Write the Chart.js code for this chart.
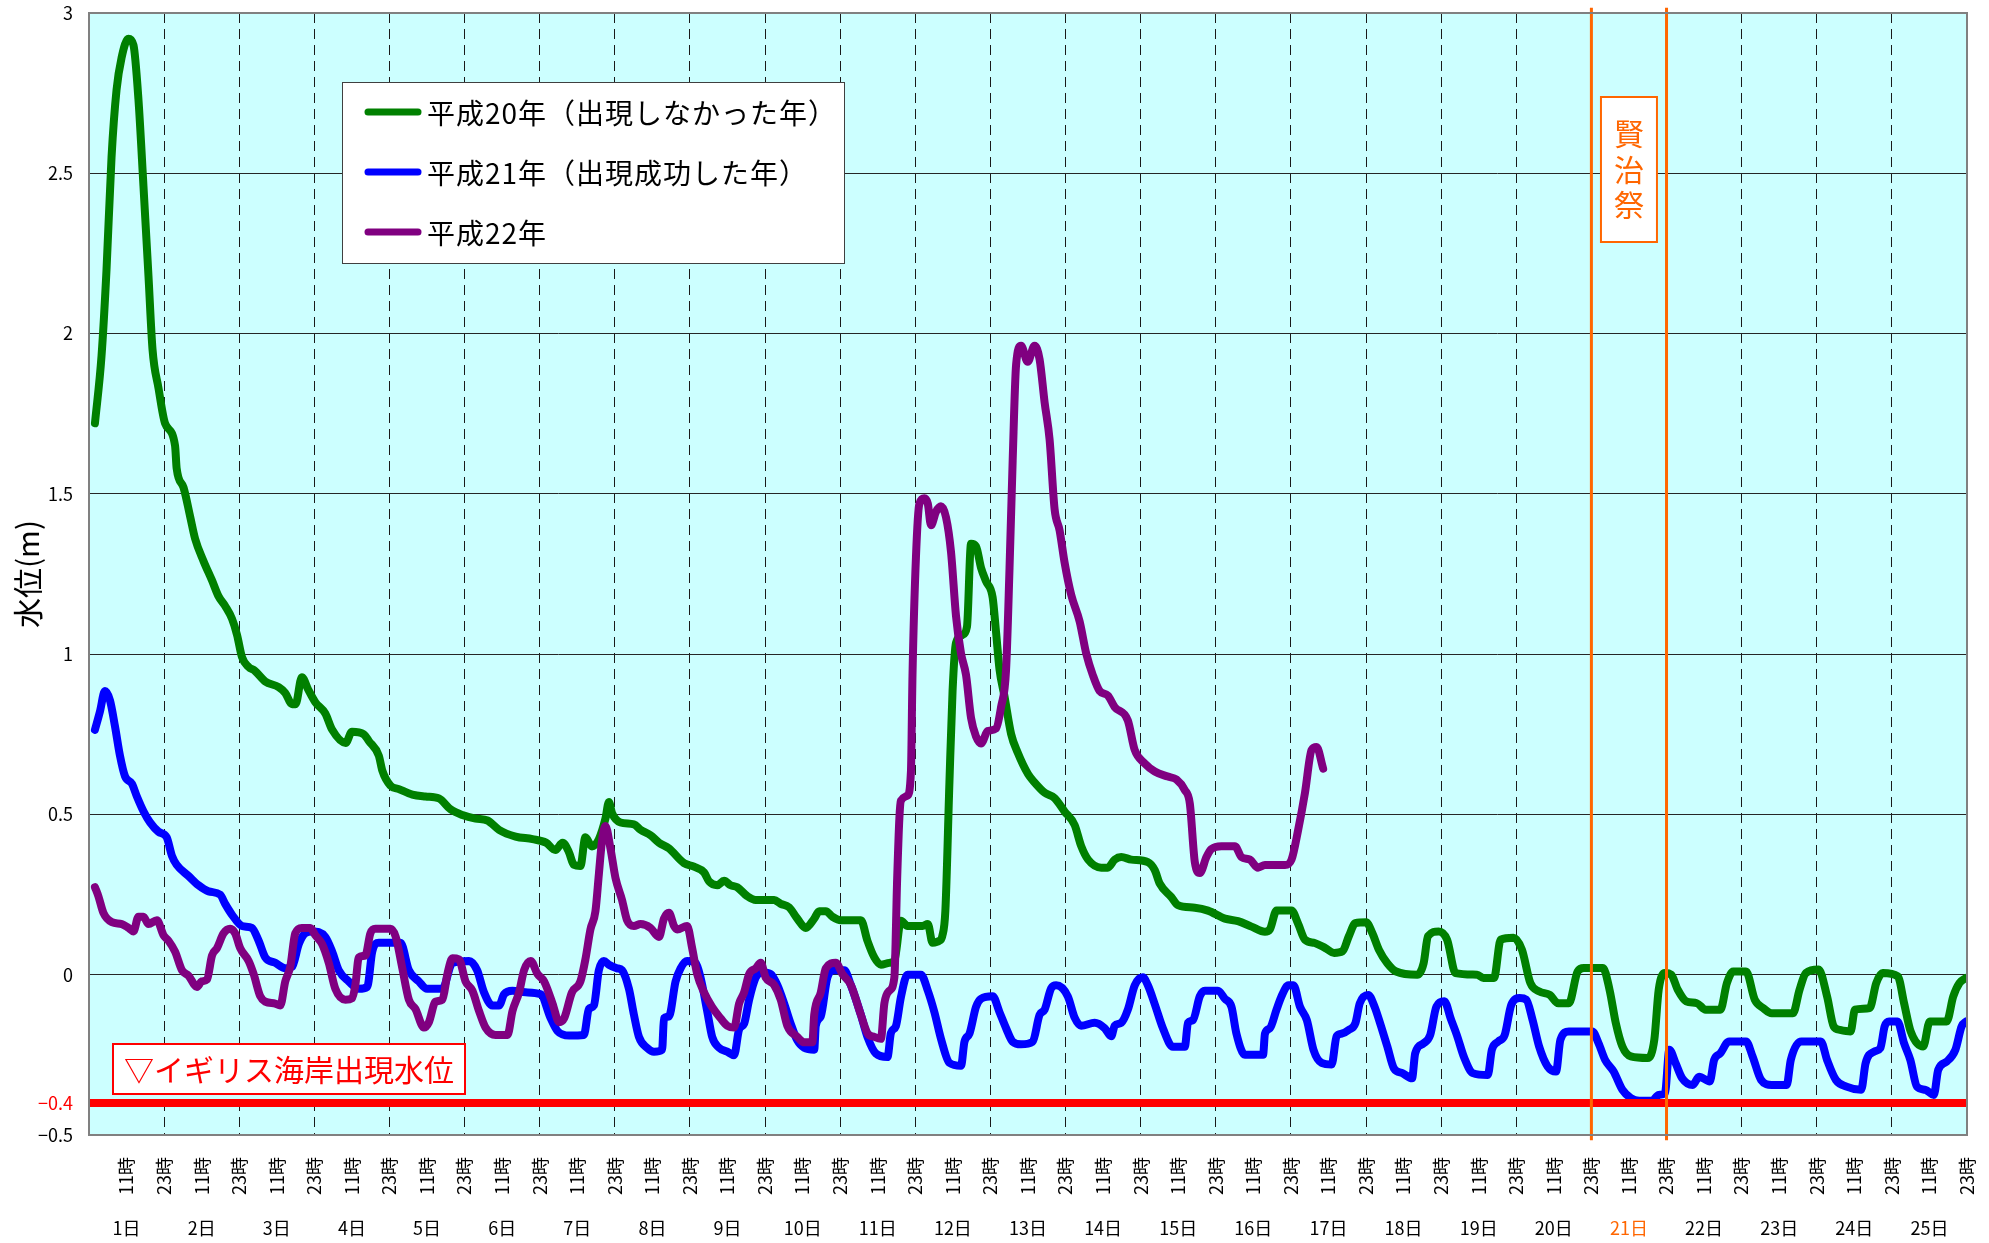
<!DOCTYPE html>
<html lang="ja">
<head>
<meta charset="utf-8">
<title>水位</title>
<script src="https://cdn.jsdelivr.net/npm/chart.js@4.4.1/dist/chart.umd.min.js"></script>
<style>
  html, body { margin: 0; padding: 0; background: #fff; }
  #wrap { width: 1989px; height: 1243px; }
</style>
</head>
<body>
<div id="wrap"><canvas id="waterLevel" width="1989" height="1243"></canvas></div>
<script>
// hours counted from day 1, 0:00
const greenHours = [1.9, 4, 5.6, 7.2, 8.8, 10.4, 12.6, 14.2, 15.8, 17.4, 19, 20.3, 22.2, 24.3, 27.5, 28, 30.2, 32.3, 33.9, 36.6,
  39.3, 41.4, 43.5, 45.7, 47.3, 48.9, 51, 53, 56.3, 60.6, 62.7, 64.9, 66, 68, 70, 72.3, 75.5, 77.7, 82, 84,
  87.8, 89.4, 92.6, 93.7, 96.3, 99, 103.3, 107.5, 111.8, 115.5, 119.3, 123.5, 127.3, 131, 136.3, 141.7, 146, 149, 151.3, 153.3,
  154.9, 157, 158.6, 160.7, 162.9, 165, 166.1, 167.1, 169.8, 174.1, 176.2, 179.4, 182.1, 185.3, 190.1, 193.3, 196.5, 198.1, 200.7, 202.9,
  205, 207.1, 210.3, 213, 218.9, 221, 223.7, 226.3, 229, 231.7, 233.3, 235.4, 237.5, 240.2, 246.6, 248.7, 250.9, 253, 255.7, 257.3,
  259.4, 261.5, 266.3, 268, 269.5, 271.7, 272.6, 273.6, 274.9, 275.9, 277, 279.1, 280.5, 281.8, 283.4, 285, 286.6, 288.7, 289.8, 290.9,
  292.5, 294.6, 296.7, 300, 302, 305.3, 308.5, 311.7, 314.9, 317, 319.2, 323.4, 325.5, 327.7, 329.8, 333, 338.3, 340.5, 342.1, 345.8,
  347.9, 353.3, 357.5, 362.9, 367.1, 371.4, 375.7, 377.3, 379.4, 384.2, 386.3, 388.5, 391.6, 395, 397.8, 400.5, 402.5, 404.6, 408, 410,
  412.1, 414.8, 417.6, 424.4, 426.4, 427.8, 431.2, 433.9, 436.6, 443.5, 445.5, 448.9, 451, 455.1, 457.8, 460.5, 463.3, 466.7, 469.4, 472.8,
  475.6, 477.6, 483.7, 485.8, 487.8, 489.9, 492.6, 498, 500.1, 501.5, 503.5, 505.5, 507.6, 510.3, 513.7, 516.5, 521.2, 523.3, 525.3, 529.4,
  532.2, 534.9, 537.6, 544.4, 546.5, 548.5, 552.6, 555.3, 557.4, 559.4, 562.8, 564.2, 568.9, 571, 573.1, 577.9, 579.9, 582, 586, 588.1,
  593.5, 595.6, 597.6, 599.7];
const greenLevels = [1.72, 1.93, 2.2, 2.55, 2.76, 2.86, 2.92, 2.9, 2.73, 2.46, 2.18, 1.95, 1.83, 1.72, 1.65, 1.58, 1.52, 1.43, 1.36, 1.29,
  1.23, 1.18, 1.15, 1.11, 1.06, 0.99, 0.96, 0.948, 0.915, 0.897, 0.879, 0.844, 0.844, 0.928, 0.89, 0.85, 0.815, 0.764, 0.723, 0.758,
  0.75, 0.729, 0.683, 0.637, 0.59, 0.579, 0.562, 0.556, 0.55, 0.516, 0.498, 0.487, 0.481, 0.452, 0.431, 0.423, 0.412, 0.389, 0.412, 0.383,
  0.343, 0.339, 0.429, 0.4, 0.423, 0.487, 0.539, 0.504, 0.475, 0.469, 0.452, 0.435, 0.412, 0.394, 0.348, 0.337, 0.319, 0.291, 0.279, 0.293,
  0.279, 0.273, 0.245, 0.233, 0.233, 0.221, 0.21, 0.175, 0.146, 0.175, 0.198, 0.198, 0.181, 0.17, 0.17, 0.106, 0.054, 0.031, 0.037, 0.043,
  0.168, 0.152, 0.152, 0.158, 0.1, 0.106, 0.12, 0.2, 0.601, 0.885, 1.035, 1.06, 1.085, 1.344, 1.336, 1.269, 1.227, 1.177, 1.068, 0.952,
  0.868, 0.751, 0.693, 0.626, 0.601, 0.568, 0.551, 0.509, 0.467, 0.401, 0.359, 0.334, 0.334, 0.359, 0.367, 0.359, 0.351, 0.326, 0.284, 0.242,
  0.217, 0.209, 0.2, 0.175, 0.167, 0.15, 0.134, 0.142, 0.2, 0.2, 0.159, 0.109, 0.099, 0.083, 0.068, 0.073, 0.12, 0.161, 0.164, 0.13,
  0.078, 0.036, 0.01, 0, 0.036, 0.12, 0.135, 0.109, 0.005, 0, -0.01, -0.01, 0.109, 0.115, 0.078, -0.026, -0.052, -0.063, -0.089, -0.089,
  0.01, 0.021, 0.021, -0.047, -0.151, -0.224, -0.255, -0.26, -0.203, -0.047, 0.005, 0, -0.047, -0.083, -0.089, -0.109, -0.109, -0.026, 0.01, 0.01,
  -0.078, -0.104, -0.12, -0.12, -0.047, 0.005, 0.016, -0.068, -0.161, -0.172, -0.177, -0.109, -0.104, -0.026, 0.005, -0.005, -0.089, -0.177, -0.224, -0.146,
  -0.146, -0.068, -0.026, -0.01];

const blueHours = [1.9, 3.5, 5.1, 6.7, 8.3, 9.9, 11.5, 13.7, 15.3, 17.4, 19.5, 22.2, 24.8, 26.5, 28, 31.8, 35, 38.2, 41.9, 43.5,
  45.7, 48.9, 52, 54.2, 56.3, 59.5, 62.7, 64.9, 67, 69, 71.3, 75.5, 77.7, 79.8, 83, 86.2, 88.9, 90.5, 92.6, 99.5,
  102.2, 105.4, 108, 112.9, 116.1, 121.4, 124, 126.2, 128.9, 131, 132.6, 135.3, 139.5, 144.3, 147.5, 149.7, 153.4, 158.1, 159.7, 161.3,
  162.9, 164.5, 166.1, 168.7, 170.3, 172.5, 174.1, 175.7, 178.3, 180.5, 183.1, 183.7, 185.3, 187.4, 189, 191.1, 193.8, 195.4, 197.5, 199.1,
  201.3, 203.9, 206.1, 207.7, 209.3, 210.9, 213, 215.1, 217.8, 219.9, 222.1, 224.2, 226.3, 228.5, 231.7, 232.2, 233.8, 235.9, 238.1, 241.3,
  243.4, 246.6, 248.7, 251.4, 255.1, 256.2, 257.8, 259.4, 261.5, 265.8, 268, 270.1, 272.2, 274.9, 278.6, 279.7, 281.3, 283.4, 285, 288.7,
  290.9, 293, 295.1, 297.8, 301.5, 303.7, 305.3, 307.4, 309, 312.7, 314.9, 317, 321.3, 324.5, 326.6, 327.7, 329.8, 331.9, 334.1, 336.7,
  338.3, 340.5, 343.1, 346.3, 350.1, 351.1, 352.7, 354.9, 356.5, 360.7, 362.9, 365, 366.6, 369.3, 375.1, 375.7, 377.3, 379.4, 381, 383.2,
  384.8, 386.9, 389.1, 391.2, 393.8, 397, 398.6, 400.2, 402.5, 404.6, 406, 408.7, 410.7, 412.8, 414.8, 416.9, 419.6, 422.7, 423.7, 426.4,
  428.5, 430.5, 433, 435.2, 437, 439.4, 442.1, 446.9, 448.2, 450.3, 452.3, 454.4, 457.1, 459.2, 461.2, 463.3, 466, 468.7, 470.1, 472.8,
  480.3, 482.3, 484.4, 487.1, 489.9, 492.6, 495.3, 499.4, 501.5, 503.5, 504.9, 506.9, 509, 512.4, 514.4, 517.8, 519.2, 521.2, 524, 529.4,
  531.5, 534.2, 537.6, 542.4, 543.7, 547.1, 553.3, 555.3, 558.1, 561.5, 566.2, 567.6, 570.3, 572.3, 573.7, 575.1, 577.8, 579.9, 581.9, 584,
  586.7, 589.4, 590.8, 593.5, 596.3, 598.3, 599.7];
const blueLevels = [0.764, 0.821, 0.885, 0.856, 0.775, 0.683, 0.619, 0.596, 0.556, 0.51, 0.475, 0.446, 0.429, 0.371, 0.343, 0.308, 0.279, 0.26, 0.25, 0.221,
  0.187, 0.152, 0.146, 0.106, 0.054, 0.037, 0.02, 0.025, 0.095, 0.129, 0.135, 0.118, 0.072, 0.014, -0.021, -0.044, -0.038, 0.072, 0.1, 0.1,
  0.014, -0.021, -0.044, -0.044, 0.037, 0.043, 0.014, -0.055, -0.096, -0.096, -0.061, -0.05, -0.055, -0.061, -0.136, -0.176, -0.19, -0.188, -0.107, -0.096,
  0.014, 0.043, 0.031, 0.02, 0.014, -0.044, -0.125, -0.194, -0.228, -0.24, -0.234, -0.136, -0.13, -0.021, 0.02, 0.043, 0.037, -0.009, -0.113, -0.194,
  -0.228, -0.24, -0.251, -0.171, -0.153, -0.078, -0.009, 0.008, 0.002, -0.032, -0.09, -0.153, -0.205, -0.228, -0.234, -0.159, -0.13, -0.009, 0.014, 0.014,
  -0.032, -0.125, -0.194, -0.246, -0.257, -0.182, -0.16, -0.07, 0, 0, -0.05, -0.117, -0.2, -0.275, -0.284, -0.209, -0.184, -0.1, -0.075, -0.067,
  -0.117, -0.167, -0.209, -0.217, -0.209, -0.125, -0.109, -0.042, -0.033, -0.067, -0.134, -0.159, -0.15, -0.167, -0.192, -0.159, -0.15, -0.109, -0.033, -0.008,
  -0.033, -0.092, -0.167, -0.225, -0.225, -0.15, -0.142, -0.067, -0.05, -0.05, -0.075, -0.1, -0.184, -0.25, -0.25, -0.184, -0.167, -0.109, -0.067, -0.033,
  -0.033, -0.1, -0.142, -0.234, -0.275, -0.28, -0.192, -0.184, -0.172, -0.151, -0.089, -0.063, -0.099, -0.161, -0.224, -0.292, -0.307, -0.323, -0.245, -0.214,
  -0.188, -0.099, -0.083, -0.141, -0.188, -0.26, -0.307, -0.313, -0.234, -0.208, -0.188, -0.094, -0.073, -0.078, -0.141, -0.224, -0.286, -0.302, -0.203, -0.177,
  -0.177, -0.214, -0.266, -0.302, -0.359, -0.385, -0.393, -0.393, -0.375, -0.37, -0.234, -0.276, -0.323, -0.344, -0.318, -0.333, -0.266, -0.245, -0.208, -0.208,
  -0.255, -0.328, -0.344, -0.344, -0.266, -0.208, -0.208, -0.266, -0.328, -0.349, -0.359, -0.276, -0.24, -0.229, -0.161, -0.146, -0.146, -0.214, -0.266, -0.349,
  -0.359, -0.375, -0.297, -0.271, -0.234, -0.161, -0.146];

const purpleHours = [1.9, 3, 4.6, 7.3, 10.5, 12.6, 14.2, 15.8, 17.4, 19, 21.7, 23.8, 25.4, 27.5, 29.7, 31.8, 34.5, 36, 37.7, 39.3,
  40.9, 43, 45.1, 46.7, 48.3, 51, 52.6, 54.7, 56.3, 59.5, 61.1, 62.7, 64.3, 65.9, 68, 70.7, 72.3, 74.5, 76.6, 78.7,
  81.9, 84.1, 85.1, 86.2, 88.3, 89.9, 91.5, 96.3, 98, 100, 102.2, 104.3, 107, 108.6, 110.7, 112.9, 114.5, 116.1, 118.2, 120.3,
  122.5, 124.6, 126.7, 129.9, 133.7, 135.3, 137.4, 139, 141.1, 143.3, 145.4, 148.1, 150.2, 151.8, 154.3, 157, 158.6, 160.2, 161.8, 162.9,
  163.9, 165, 166.6, 168.2, 170.3, 171.9, 174.1, 176.2, 179.4, 182.1, 183.7, 185.3, 186.9, 187.9, 191.1, 192.7, 194.3, 196.5, 199.1, 201.8,
  203.9, 206.1, 207.7, 209.3, 210.9, 213, 214.6, 216.2, 218.9, 221, 223.1, 226.3, 228.5, 231.1, 231.7, 233.8, 235.4, 238.6, 240.7, 243.4,
  246.6, 248.7, 250.9, 253, 254.1, 255.7, 257.3, 258.2, 258.9, 259.4, 261.5, 262.6, 263.1, 264.2, 265.3, 266.9, 268, 269, 270.6, 272.2,
  273.8, 275.4, 277, 278.6, 280.2, 281.8, 283.4, 285, 287.1, 289.8, 291.4, 293, 294.1, 295.1, 296.2, 297.8, 299.9, 302.1, 303.7, 305.3,
  306.9, 308.5, 310.1, 311.7, 313.8, 316.5, 318.6, 320.7, 322.9, 325.5, 327.7, 331.9, 334.1, 337.3, 340.5, 344.7, 347.4, 350.1, 351.7, 353.3,
  354.9, 357, 358.6, 361.8, 366.1, 368.2, 370.9, 373.5, 375.7, 382.1, 384.2, 386.3, 388.5, 390.6, 392.2, 394.3];
const purpleLevels = [0.273, 0.245, 0.193, 0.164, 0.158, 0.146, 0.135, 0.181, 0.181, 0.158, 0.17, 0.123, 0.106, 0.072, 0.014, -0.003, -0.038, -0.021, -0.015, 0.06,
  0.083, 0.129, 0.143, 0.129, 0.083, 0.043, 0.002, -0.067, -0.084, -0.09, -0.096, -0.021, 0.025, 0.129, 0.146, 0.146, 0.123, 0.095, 0.037, -0.044,
  -0.078, -0.073, -0.032, 0.054, 0.06, 0.129, 0.143, 0.143, 0.118, 0.025, -0.078, -0.107, -0.165, -0.148, -0.084, -0.078, 0.002, 0.051, 0.048, -0.021,
  -0.05, -0.113, -0.165, -0.188, -0.188, -0.113, -0.055, 0.014, 0.043, 0.002, -0.021, -0.09, -0.148, -0.136, -0.055, -0.021, 0.048, 0.141, 0.198, 0.314,
  0.418, 0.464, 0.394, 0.302, 0.233, 0.17, 0.152, 0.158, 0.146, 0.118, 0.175, 0.193, 0.152, 0.141, 0.152, 0.083, 0.002, -0.055, -0.101, -0.136,
  -0.159, -0.165, -0.09, -0.055, 0.002, 0.02, 0.037, -0.009, -0.032, -0.078, -0.159, -0.194, -0.211, -0.211, -0.125, -0.055, 0.02, 0.037, 0.002, -0.032,
  -0.125, -0.182, -0.194, -0.2, -0.09, -0.05, -0.009, 0.3, 0.487, 0.543, 0.559, 0.634, 0.935, 1.302, 1.469, 1.486, 1.469, 1.402, 1.444, 1.461,
  1.427, 1.319, 1.119, 1.002, 0.935, 0.801, 0.743, 0.721, 0.76, 0.768, 0.835, 0.952, 1.269, 1.603, 1.903, 1.962, 1.912, 1.962, 1.92, 1.786,
  1.669, 1.452, 1.386, 1.285, 1.185, 1.102, 1.002, 0.935, 0.885, 0.871, 0.835, 0.793, 0.701, 0.659, 0.634, 0.618, 0.609, 0.576, 0.534, 0.351,
  0.317, 0.367, 0.392, 0.401, 0.401, 0.367, 0.359, 0.334, 0.342, 0.342, 0.359, 0.451, 0.568, 0.701, 0.71, 0.643];

const seriesNames = ['平成20年（出現しなかった年）', '平成21年（出現成功した年）', '平成22年'];
const hourLabels = ['11時', '23時'];
const dayLabels = ['1日', '2日', '3日', '4日', '5日', '6日', '7日', '8日', '9日', '10日', '11日', '12日', '13日',
  '14日', '15日', '16日', '17日', '18日', '19日', '20日', '21日', '22日', '23日', '24日', '25日'];
const yTicks = [-0.5, -0.4, 0, 0.5, 1, 1.5, 2, 2.5, 3];
const coastLevel = -0.4;          // イギリス海岸出現水位
const festivalHours = [480, 504]; // 賢治祭 (21日)

const FONT = "'Noto Sans CJK JP', 'Noto Sans', sans-serif";
const ORANGE = '#FF6600';
Chart.defaults.font.family = FONT;
Chart.defaults.color = '#000';

function points(hours, levels) {
  return hours.map((h, i) => ({ x: h, y: levels[i] }));
}

function seriesLine(label, color, hours, levels, order) {
  return {
    label: label, data: points(hours, levels), borderColor: color, backgroundColor: color,
    borderWidth: 8, pointRadius: 0, cubicInterpolationMode: 'monotone',
    borderJoinStyle: 'round', borderCapStyle: 'round',
    order: order, inLegend: true
  };
}

function festivalLine(h) {
  return {
    label: '', data: [{ x: h, y: -0.516 }, { x: h, y: 3.016 }], borderColor: ORANGE,
    borderWidth: 3, pointRadius: 0, order: 0, clip: false
  };
}

// keep the plot area where the reference has it
function noEdgePadding(s) {
  s.paddingTop = 0; s.paddingBottom = 0; s.paddingLeft = 0; s.paddingRight = 0;
}

const plotFrame = {
  id: 'plotFrame',
  beforeDraw(chart) {
    const { ctx, chartArea: a } = chart;
    ctx.save();
    ctx.fillStyle = '#CCFFFF';
    ctx.fillRect(a.left, a.top, a.right - a.left, a.bottom - a.top);
    ctx.restore();
  },
  afterDatasetsDraw(chart) {
    const { ctx, chartArea: a } = chart;
    ctx.save();
    ctx.strokeStyle = '#808080';
    ctx.lineWidth = 2;
    ctx.strokeRect(a.left, a.top, a.right - a.left, a.bottom - a.top);
    ctx.restore();
  }
};

const notes = {
  id: 'notes',
  afterDraw(chart) {
    const { ctx, chartArea: a } = chart;
    const xs = chart.scales.x;
    ctx.save();

    // legend
    const lx = a.left + 253, ly = a.top + 69;
    ctx.fillStyle = '#fff';
    ctx.fillRect(lx, ly, 502, 181);
    ctx.strokeStyle = '#404040';
    ctx.lineWidth = 1;
    ctx.strokeRect(lx + 0.5, ly + 0.5, 502, 181);
    ctx.font = '28px ' + FONT;
    ctx.letterSpacing = '1px';
    ctx.textBaseline = 'middle';
    ctx.textAlign = 'left';
    chart.data.datasets.filter(d => d.inLegend).forEach((d, i) => {
      const ry = ly + 30 + i * 60;
      ctx.strokeStyle = d.borderColor;
      ctx.lineWidth = 7;
      ctx.lineCap = 'round';
      ctx.beginPath();
      ctx.moveTo(lx + 26, ry);
      ctx.lineTo(lx + 76, ry);
      ctx.stroke();
      ctx.fillStyle = '#000';
      ctx.fillText(d.label, lx + 85, ry + 1);
    });
    ctx.letterSpacing = '0px';

    // coast label
    const bx = a.left + 24, by = a.bottom - 91;
    ctx.fillStyle = '#fff';
    ctx.fillRect(bx, by, 352, 50);
    ctx.strokeStyle = '#FF0000';
    ctx.lineWidth = 2;
    ctx.strokeRect(bx, by, 352, 50);
    ctx.fillStyle = '#FF0000';
    ctx.font = '30px ' + FONT;
    ctx.textAlign = 'center';
    ctx.fillText('▽イギリス海岸出現水位', bx + 176, by + 26);

    // festival label
    const cx = (xs.getPixelForValue(festivalHours[0]) + xs.getPixelForValue(festivalHours[1])) / 2;
    const fy = a.top + 84;
    ctx.fillStyle = '#fff';
    ctx.fillRect(cx - 28, fy, 56, 145);
    ctx.strokeStyle = ORANGE;
    ctx.strokeRect(cx - 28, fy, 56, 145);
    ctx.fillStyle = ORANGE;
    ctx.font = '30px ' + FONT;
    ['賢', '治', '祭'].forEach((c, i) => ctx.fillText(c, cx, fy + 37 + i * 35.5));
    ctx.restore();
  }
};

new Chart(document.getElementById('waterLevel'), {
  type: 'line',
  data: {
    datasets: [
      seriesLine(seriesNames[0], '#008000', greenHours, greenLevels, 3),
      seriesLine(seriesNames[1], '#0000FF', blueHours, blueLevels, 4),
      seriesLine(seriesNames[2], '#800080', purpleHours, purpleLevels, 2),
      {
        label: '', data: [{ x: 0, y: coastLevel }, { x: 600, y: coastLevel }], borderColor: '#FF0000',
        borderWidth: 8, pointRadius: 0, order: 1
      },
      festivalLine(festivalHours[0]),
      festivalLine(festivalHours[1])
    ]
  },
  options: {
    responsive: false,
    animation: false,
    events: [],
    layout: { padding: { top: 13, right: 22, left: 0, bottom: 0 } },
    plugins: { legend: { display: false }, tooltip: { enabled: false } },
    scales: {
      x: {
        type: 'linear', position: 'bottom', min: 0, max: 600, weight: 0,
        afterBuildTicks: s => {
          s.ticks = [];
          for (let h = 12; h <= 600; h += 12) s.ticks.push({ value: h });
        },
        afterFit: s => { s.height = 70; noEdgePadding(s); },
        grid: {
          drawTicks: false, lineWidth: 1,
          color: c => (c.tick && c.tick.value % 24 === 0) ? '#1a1a1a' : 'rgba(0,0,0,0)'
        },
        border: { display: false, dash: [10, 6] },
        ticks: {
          autoSkip: false, minRotation: 90, maxRotation: 90, padding: 22,
          font: { size: 18 },
          callback: v => hourLabels[(v / 12 + 1) % 2]
        }
      },
      xDay: {
        type: 'linear', position: 'bottom', min: 0, max: 600, weight: 1,
        afterBuildTicks: s => { s.ticks = dayLabels.map((_, i) => ({ value: 12 + 24 * i })); },
        afterFit: s => { s.height = 38; noEdgePadding(s); },
        grid: { display: false, drawTicks: false },
        border: { display: false },
        ticks: {
          autoSkip: false, minRotation: 0, maxRotation: 0, padding: 12,
          font: { size: 18 },
          color: c => c.index === 20 ? ORANGE : '#000',
          callback: (v, i) => dayLabels[i]
        }
      },
      y: {
        type: 'linear', min: -0.5, max: 3,
        afterBuildTicks: s => { s.ticks = yTicks.map(v => ({ value: v })); },
        afterFit: s => { s.width = 89; noEdgePadding(s); },
        grid: {
          drawTicks: false, lineWidth: 1,
          color: c => (c.tick && [-0.5, -0.4, 3].includes(c.tick.value)) ? 'rgba(0,0,0,0)' : '#262626'
        },
        border: { display: false },
        ticks: {
          padding: 16, font: { size: 18 },
          color: c => (c.tick && c.tick.value === coastLevel) ? '#FF0000' : '#000',
          callback: v => v < 0 ? '−' + (-v) : String(v)
        },
        title: { display: true, text: '水位(m)', font: { size: 30 }, color: '#000', padding: { top: 10, bottom: 0 } }
      }
    }
  },
  plugins: [plotFrame, notes]
});
</script>
</body>
</html>
